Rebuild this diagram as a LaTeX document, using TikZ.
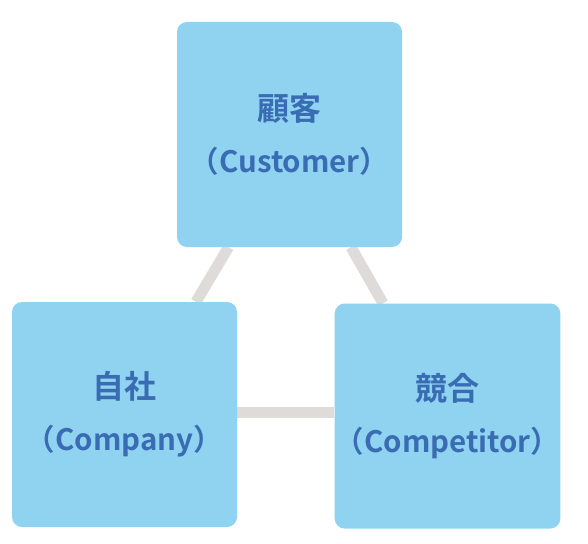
\documentclass[tikz,border=0pt]{standalone}
\usepackage{fontspec}
\newfontfamily\jpfont{Noto Sans CJK JP Bold}
\usetikzlibrary{positioning,backgrounds}
\definecolor{boxblue}{HTML}{8FD3F0}
\definecolor{textblue}{HTML}{3A6CB4}
\definecolor{linkgrey}{HTML}{DEDBD9}
\newcommand{\bigjp}[1]{{\fontsize{32}{52}\selectfont #1}}
\tikzset{
  cbox/.style={
    rectangle,
    rounded corners=10pt,
    fill=boxblue,
    text=textblue,
    minimum width=225pt,
    minimum height=225pt,
    inner sep=0pt,
    align=center,
    font=\jpfont\fontsize{29.5}{52}\selectfont},
  link/.style={draw=linkgrey, line width=11pt},
}
\begin{document}
\begin{tikzpicture}[x=1pt, y=-1pt]
  \useasboundingbox (0,0) rectangle (588,543);
  \node[cbox] (customer) at (289.5,134.5) {\bigjp{顧客}\\（Customer）};
  \node[cbox] (company) at (124.5,414.5) {\bigjp{自社}\\（Company）};
  \node[cbox] (competitor) at (447.5,416) {\bigjp{競合}\\（Competitor）};
  \begin{scope}[on background layer]
    \draw[link] ([xshift=-61pt]customer.south) -- ([xshift=71.5pt]company.north);
    \draw[link] ([xshift=61.5pt]customer.south) -- ([xshift=-64.5pt]competitor.north);
    \draw[link] ([yshift=2.5pt]company.east) -- ([yshift=2.5pt]company.east -| competitor.west);
  \end{scope}
\end{tikzpicture}
\end{document}
